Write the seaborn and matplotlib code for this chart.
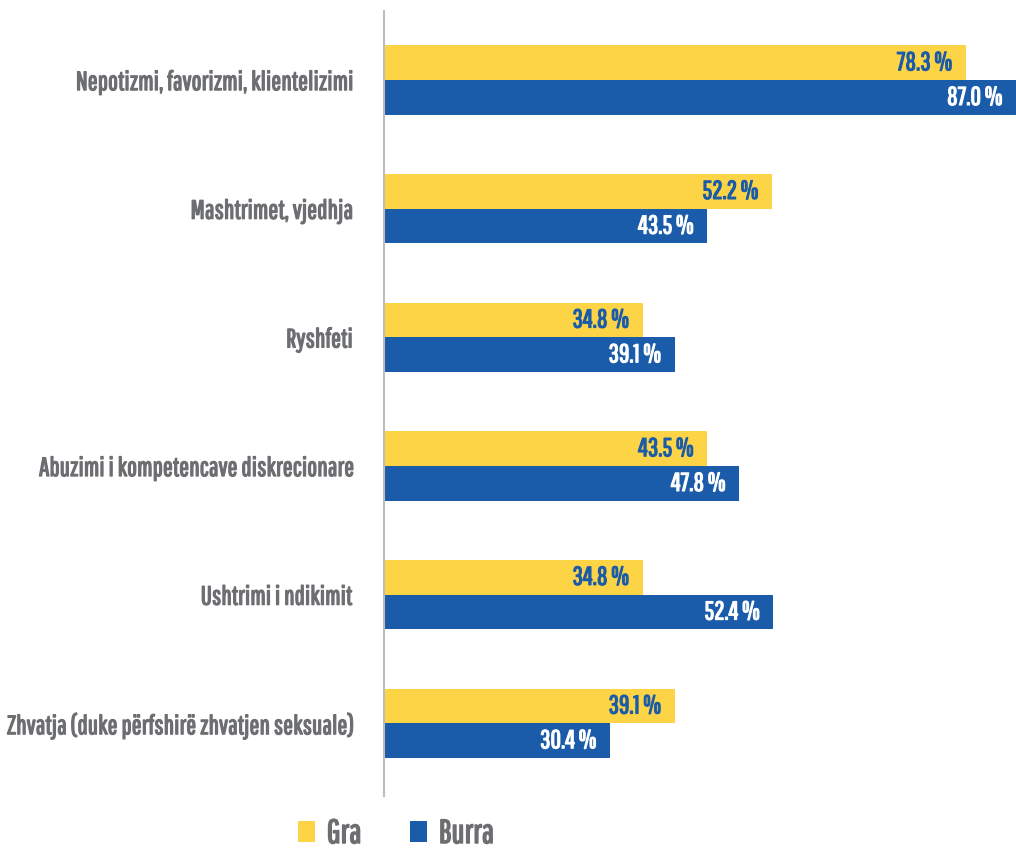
import matplotlib
matplotlib.use("Agg")
import matplotlib.pyplot as plt
import matplotlib.patheffects as pe
from matplotlib.patches import Patch
import pandas as pd
import seaborn as sns

categories = [
    "Nepotizmi, favorizmi, klientelizimi",
    "Mashtrimet, vjedhja",
    "Ryshfeti",
    "Abuzimi i kompetencave diskrecionare",
    "Ushtrimi i ndikimit",
    "Zhvatja (duke përfshirë zhvatjen seksuale)",
]
gra = [78.3, 52.2, 34.8, 43.5, 34.8, 39.1]
burra = [87.0, 43.5, 39.1, 47.8, 52.4, 30.4]
series = ["Gra", "Burra"]

YELLOW = "#FDD446"
BLUE = "#1A5CA9"
GREY = "#6D6E71"
FONT = ["Pathway Gothic One", "DejaVu Sans"]


def heavy(color, lw=0.9):
    # thicken the thin gothic strokes a little
    return [pe.withStroke(linewidth=lw, foreground=color)]


sns.set_theme(style="white")
plt.rcParams["font.family"] = FONT

df = pd.DataFrame({
    "category": categories * 2,
    "value": gra + burra,
    "series": [series[0]] * len(categories) + [series[1]] * len(categories),
})

fig = plt.figure(figsize=(10.16, 8.49), dpi=100)
ax = fig.add_axes([384 / 1016, 53 / 849, 1 - 384 / 1016, (796 - 11) / 849])

sns.barplot(data=df, y="category", x="value", hue="series", order=categories,
            hue_order=series, palette=[YELLOW, BLUE], width=0.54, orient="h",
            saturation=1, ax=ax, legend=False, linewidth=0)

xmax = 632 / 7.43
ax.set_xlim(0, xmax)
ax.set_ylim(len(categories) - 0.435, -0.537)
ax.set_xlabel("")
ax.set_ylabel("")
ax.set_xticks([])
ax.tick_params(axis="y", length=0, pad=22.5)
for lbl in ax.get_yticklabels():
    lbl.set_fontsize(19)
    lbl.set_color(GREY)
    lbl.set_path_effects(heavy(GREY))

for side in ["top", "right", "bottom"]:
    ax.spines[side].set_visible(False)
ax.spines["left"].set_color("#BDBDBD")
ax.spines["left"].set_linewidth(1.5)

text_colors = [BLUE, "white"]
for container, tcol in zip(ax.containers, text_colors):
    for bar in container:
        v = bar.get_width()
        yc = bar.get_y() + bar.get_height() / 2
        xpos = (v if v <= xmax else xmax) - 1.8
        ax.text(xpos, yc, f"{v:.1f} %", ha="right", va="center",
                fontsize=18.5, color=tcol, path_effects=heavy(tcol))

handles = [Patch(facecolor=YELLOW, edgecolor="none"), Patch(facecolor=BLUE, edgecolor="none")]
leg = fig.legend(handles, series, loc="center", bbox_to_anchor=(396 / 1016, 1 - 834 / 849),
                 ncol=2, frameon=False, fontsize=24, handlelength=0.52, handleheight=0.6,
                 columnspacing=1.45, handletextpad=0.35)
for t in leg.get_texts():
    t.set_color(GREY)
    t.set_path_effects(heavy(GREY, 1.1))

fig.savefig("out.png", dpi=100)
